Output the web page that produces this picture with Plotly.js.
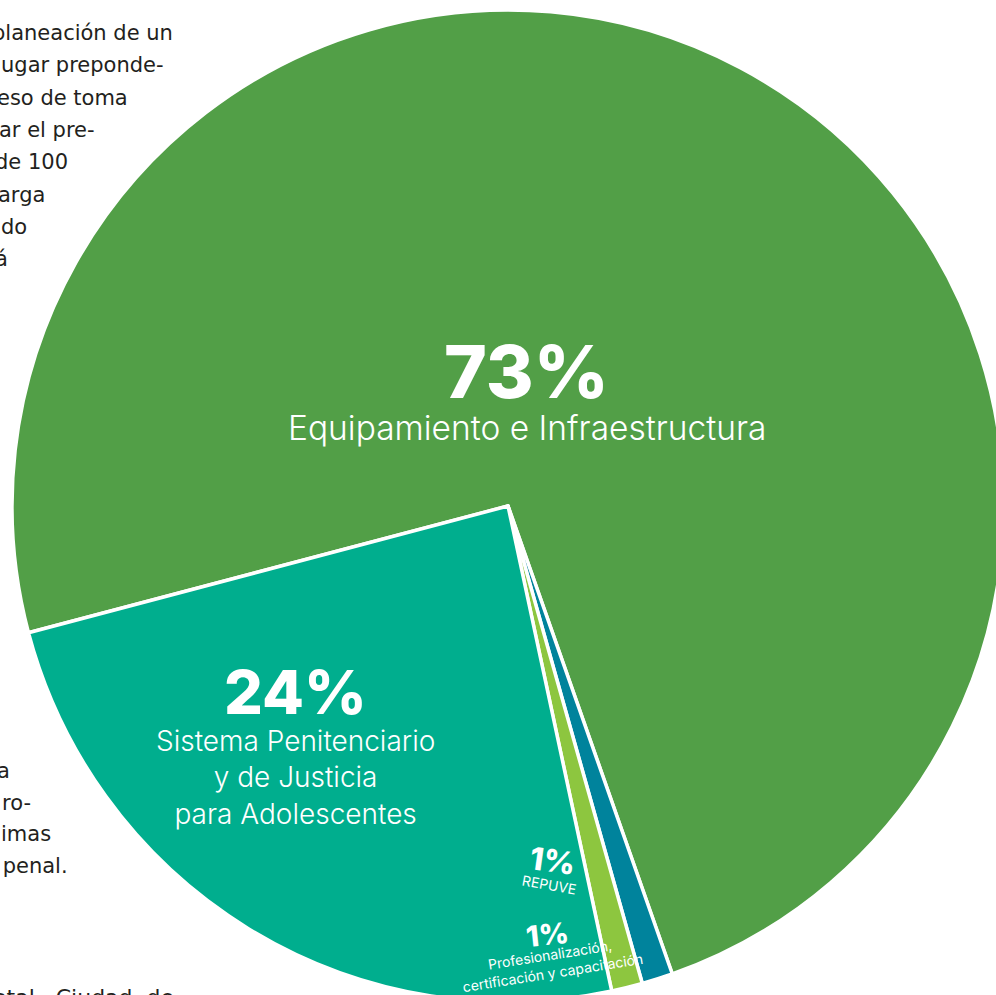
<!DOCTYPE html>
<html>
<head>
<meta charset="utf-8">
<script src="https://cdn.plot.ly/plotly-3.0.1.min.js"></script>
<style>
  html, body { margin: 0; padding: 0; overflow: hidden; background: #ffffff; width: 996px; height: 995px; }
  #chart { position: absolute; left: 0; top: 0; width: 1010px; height: 1010px; }
</style>
</head>
<body>
<div id="chart"></div>
<script>
// ---- data ----
const categories = ["Equipamiento e Infraestructura", "REPUVE", "Profesionalización, certificación y capacitación", "Sistema Penitenciario y de Justicia para Adolescentes"];
const shares = [73, 1, 1, 24];
const sliceColors = ["#529F47", "#00839C", "#8DC63F", "#00AE8E"];
const pctLabels = ["73%", "1%", "1%", "24%"];
const nameLabels = ["Equipamiento e Infraestructura", "REPUVE", "Profesionalización,<br>certificación y capacitación", "Sistema Penitenciario<br>y de Justicia<br>para Adolescentes"];

// cropped body text fragments around the chart
const bodyTopLines = ["planeación de un", "ugar preponde-", "eso de toma", "ar el pre-", "de 100", "arga", "do", "á"];
const bodyBottomLines = ["a", "ro-", "imas", " penal."];
const bodyLastLine = "etal.\u00a0\u00a0Ciudad\u00a0\u00a0de";

// ---- layout helpers (pixel -> paper) ----
const M = {l: 12, t: 10, r: 6, b: 8};
const W = 1010, H = 1010;
const PW = W - M.l - M.r, PH = H - M.t - M.b;
const px = x => (x - M.l) / PW;
const py = y => 1 - (y - M.t) / PH;

const LF = "Inter, 'Open Sans', sans-serif";
const BF = "'DejaVu Sans', Verdana, sans-serif";
const annotations = [];
function addText(text, x, y, size, opts, weight) {
  annotations.push(Object.assign({
    text: text, x: px(x), y: py(y), xref: "paper", yref: "paper",
    showarrow: false, xanchor: "center", yanchor: "middle",
    font: {family: LF, size: size, color: "#ffffff", weight: weight || 400}
  }, opts || {}));
}

// slice labels
addText(pctLabels[0], 526, 371, 73, {}, 800);
addText(nameLabels[0], 527, 428, 33.5, {}, 300);
addText(pctLabels[3], 295, 692, 61, {}, 800);
addText(nameLabels[3], 295, 777, 28, {}, 300);
addText(pctLabels[1], 553, 860, 31, {textangle: 8}, 800);
addText(categories[1], 549, 884, 14, {textangle: 10});
addText(pctLabels[2], 547, 934, 29, {textangle: -6}, 800);
addText(nameLabels[2], 551, 963, 14, {textangle: -9});

// cropped paragraph text
const topRight = [175, 166, 130, 97, 70, 47, 29, 10];
bodyTopLines.forEach((t, i) => {
  annotations.push({text: t, x: px(topRight[i]), y: py(33 + 32.3 * i), xref: "paper", yref: "paper",
    showarrow: false, xanchor: "right", yanchor: "middle",
    font: {family: BF, size: 21, color: "#231f20"}});
});
const botRight = [12, 33, 53, 70];
bodyBottomLines.forEach((t, i) => {
  annotations.push({text: t, x: px(botRight[i]), y: py(771 + 31.7 * i), xref: "paper", yref: "paper",
    showarrow: false, xanchor: "right", yanchor: "middle",
    font: {family: BF, size: 21, color: "#231f20"}});
});
annotations.push({text: bodyLastLine, x: px(176), y: py(997), xref: "paper", yref: "paper",
  showarrow: false, xanchor: "right", yanchor: "middle",
  font: {family: BF, size: 22, color: "#231f20"}});

const trace = {
  type: "pie",
  labels: categories,
  values: shares,
  sort: false,
  direction: "clockwise",
  rotation: -104.8,
  marker: {colors: sliceColors, line: {color: "#ffffff", width: 3.5}},
  textinfo: "none",
  hoverinfo: "label+percent",
  showlegend: false,
  domain: {x: [0, 1], y: [0, 1]}
};

const layout = {
  width: W, height: H,
  margin: M,
  paper_bgcolor: "#ffffff",
  plot_bgcolor: "#ffffff",
  showlegend: false,
  annotations: annotations
};

Plotly.newPlot("chart", [trace], layout, {displayModeBar: false, staticPlot: true});
</script>
</body>
</html>
